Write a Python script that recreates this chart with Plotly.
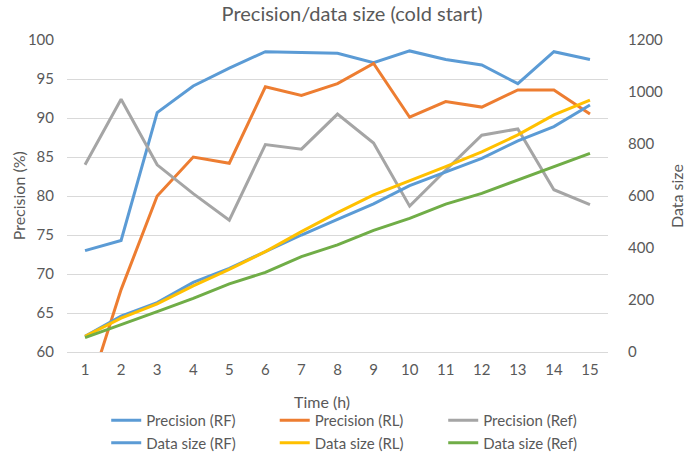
import plotly.graph_objects as go

time_h = list(range(1, 16))
prec_rf = [73.0, 74.3, 90.7, 94.1, 96.4, 98.5, 98.4, 98.3, 97.1, 98.6, 97.5, 96.8, 94.4, 98.5, 97.5]
prec_rl = [53.5, 68.0, 80.0, 85.0, 84.2, 94.0, 92.9, 94.4, 97.0, 90.1, 92.1, 91.4, 93.6, 93.6, 90.5]
prec_ref = [84.0, 92.4, 84.0, 80.3, 76.9, 86.6, 86.0, 90.5, 86.8, 78.7, 83.3, 87.8, 88.6, 80.8, 78.9]
size_rf = [60, 138, 190, 268, 322, 386, 450, 510, 570, 640, 694, 745, 812, 867, 950]
size_rl = [60, 130, 185, 254, 318, 386, 463, 536, 604, 658, 713, 770, 835, 912, 969]
size_ref = [55, 104, 155, 206, 262, 306, 367, 412, 468, 514, 569, 610, 662, 713, 764]

FONT = "Lato"
GRAY = "#595959"

fig = go.Figure()
series = [
    ("Precision (RF)", prec_rf, "#5B9BD5", "y"),
    ("Precision (RL)", prec_rl, "#ED7D31", "y"),
    ("Precision (Ref)", prec_ref, "#A5A5A5", "y"),
    ("Data size (RF)", size_rf, "#5B9BD5", "y2"),
    ("Data size (RL)", size_rl, "#FFC000", "y2"),
    ("Data size (Ref)", size_ref, "#70AD47", "y2"),
]
for name, vals, color, ax in series:
    fig.add_trace(go.Scatter(x=time_h, y=vals, name=name, mode="lines",
                             line=dict(color=color, width=3), yaxis=ax))

fig.update_layout(
    width=685, height=452,
    margin=dict(l=67, r=77, t=40, b=100, autoexpand=False),
    paper_bgcolor="white", plot_bgcolor="white",
    font=dict(family=FONT, size=15, color=GRAY),
    title=dict(text="Precision/data size (cold start)", x=0.514, xanchor="center",
               y=0.9856, yanchor="top", font=dict(size=20, color=GRAY)),
    xaxis=dict(range=[0.5, 15.5], tickmode="array", tickvals=time_h,
               ticktext=[str(t) for t in time_h], showgrid=False,
               showline=True, linecolor="#D9D9D9", ticks="", ticklabelstandoff=4),
    yaxis=dict(range=[60, 100], dtick=5, showgrid=True, gridcolor="#D9D9D9",
               gridwidth=1, zeroline=False, ticks="", ticklabelstandoff=12),
    yaxis2=dict(range=[0, 1200], dtick=200, overlaying="y", side="right",
                showgrid=False, zeroline=False, ticks="", ticklabelstandoff=19),
    legend=dict(orientation="h", x=0.0725, xanchor="left", yref="container",
                y=0.106, yanchor="top",
                entrywidth=123.5, entrywidthmode="pixels", font=dict(size=15),
                traceorder="normal"),
    annotations=[
        dict(text="Time (h)", xref="paper", yref="paper", x=0.471, y=-0.16,
             xanchor="center", yanchor="middle", showarrow=False,
             font=dict(size=16, color=GRAY)),
        dict(text="Precision (%)", xref="paper", yref="paper", x=-0.09, y=0.5,
             xanchor="center", yanchor="middle", textangle=-90, showarrow=False,
             font=dict(size=16, color=GRAY)),
        dict(text="Data size", xref="paper", yref="paper", x=1.1257, y=0.5,
             xanchor="center", yanchor="middle", textangle=-90, showarrow=False,
             font=dict(size=16, color=GRAY)),
    ],
)

# Remove the browser's default 8px body margin so the figure fills the window.
fig.write_html("out.html", config={"displayModeBar": False},
               post_script="document.body.style.margin='0';document.body.style.overflow='hidden';")
